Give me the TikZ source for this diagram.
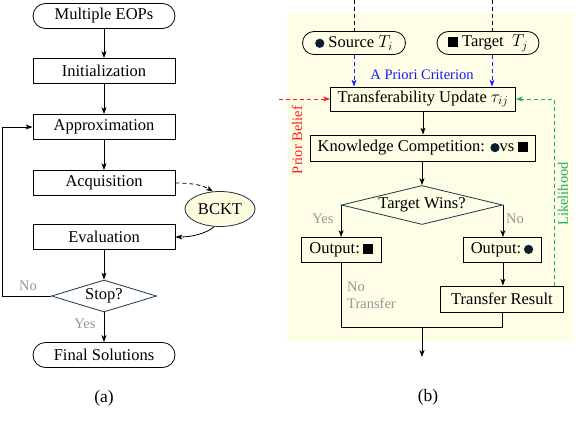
\documentclass[tikz,border=0pt]{standalone}
\usepackage{fontspec}
\setmainfont{Liberation Serif}
\usetikzlibrary{arrows.meta,shapes.geometric}
\definecolor{bgy}{RGB}{254,254,230}
\definecolor{ell}{RGB}{254,252,222}
\definecolor{dia}{RGB}{28,52,72}
\definecolor{lab}{RGB}{150,150,150}
\definecolor{ballc}{RGB}{10,30,45}
\definecolor{grn}{RGB}{30,175,90}
\definecolor{blu}{RGB}{25,25,255}
\definecolor{rd}{RGB}{255,30,30}
\newcommand{\ballsym}{\raisebox{-0.3pt}{\tikz\fill[ballc] (0,0) circle (4.6pt);}}
\newcommand{\sqsym}{\rule[-0.3pt]{10pt}{10pt}}
\tikzset{
 box/.style={draw, line width=0.8pt, minimum height=25pt, inner sep=0pt, font=\fontsize{16.5}{19}\selectfont},
 term/.style={box, rounded corners=12.5pt},
 dec/.style={diamond, draw=dia, line width=0.8pt, inner sep=0pt, font=\fontsize{16.5}{19}\selectfont},
 arr/.style={-{Stealth[length=7pt,width=5pt,inset=2pt]}, line width=0.8pt},
 dsh/.style={dash pattern=on 4pt off 3pt},
 lbl/.style={text=lab, font=\fontsize{14.5}{17}\selectfont, inner sep=0pt},
 capt/.style={font=\fontsize{17.5}{20}\selectfont, inner sep=0pt},
}
\begin{document}
\begin{tikzpicture}[x=1pt,y=-1pt]
\useasboundingbox (0,0) rectangle (581,423);
% ---------- panel (a)
\node[term, minimum width=142pt] (meops) at (104,16) {Multiple EOPs};
\node[box, minimum width=142pt] (init) at (104,71) {Initialization};
\node[box, minimum width=142pt] (approx) at (104,127) {Approximation};
\node[box, minimum width=142pt] (acq) at (104,183) {Acquisition};
\node[box, minimum width=142pt] (eval) at (104,237) {Evaluation};
\node[dec, aspect=3.3, minimum width=105pt, minimum height=32pt] (stop) at (104,296) {Stop?};
\node[term, minimum width=142pt] (final) at (104,355) {Final Solutions};
\node[ellipse, draw=dia, fill=ell, line width=0.8pt, minimum width=70pt, minimum height=35pt, inner sep=0pt, font=\fontsize{16.5}{19}\selectfont] (bckt) at (220,209) {BCKT};
\coordinate (loopc) at (2,296);
\draw[arr] (meops) -- (init);
\draw[arr] (init) -- (approx);
\draw[arr] (approx) -- (acq);
\draw[arr] (eval) -- (stop);
\draw[arr] (stop) -- (final);
\draw[arr] (stop.west) -- (loopc) |- (approx.west);
\draw[arr, dsh] (acq.east) .. controls (195,183) and (204,186) .. (bckt.112);
\draw[arr] (bckt.252) .. controls (207,233) and (193,237) .. (eval.east);
\node[lbl] at (28,286) {No};
\node[lbl] at (85,324) {Yes};
\node[capt] (capa) at (104,398) {(a)};
% ---------- panel (b)
\fill[bgy] (287,13) rectangle (573,342);
\node[term, minimum width=103pt, minimum height=23pt, rounded corners=11.5pt] (src) at (354,43) {\ballsym\ Source $T_i$};
\node[term, minimum width=102pt, minimum height=23pt, rounded corners=11.5pt] (tgt) at (488,43) {\sqsym\ Target\ \ $T_j$};
\node[box, minimum width=185pt, minimum height=24pt] (trans) at (423,99) {Transferability Update $\tau_{ij}$};
\node[box, minimum width=225pt, minimum height=26pt] (kc) at (423,148) {Knowledge Competition: \ballsym vs \sqsym};
\node[dec, aspect=4, minimum width=161pt, minimum height=39pt] (tw) at (422,205) {Target Wins?};
\node[box, minimum width=80pt] (outsq) at (341,250) {Output:\,\sqsym};
\node[box, minimum width=78pt] (outc) at (502,250) {Output:\,\ballsym};
\node[box, minimum width=123pt, minimum height=26pt] (tres) at (502,299) {Transfer Result};
\coordinate (st) at (354,0);
\coordinate (tt) at (492,0);
\coordinate (pb) at (279,99);
\coordinate (gs) at (554,286);
\coordinate (mj) at (422,327);
\coordinate (endb) at (422,357);
\draw[dsh, line width=0.8pt] (st) -- (src.north);
\draw[dsh, line width=0.8pt] (tt) -- (tt |- tgt.north);
\draw[arr, dsh, blu] (src.south) -- (src.south |- trans.north);
\draw[arr, dsh, blu] (tt |- tgt.south) -- (tt |- trans.north);
\node[text=blu, font=\fontsize{14.5}{17}\selectfont, inner sep=0pt] at (422,75) {A Priori Criterion};
\draw[arr, dsh, rd] (pb) -- (trans.west);
\node[text=rd, font=\fontsize{14.5}{17}\selectfont, inner sep=0pt, rotate=90] at (297,140) {Prior Belief};
\draw[arr, dsh, grn] (gs) |- (trans.east);
\node[text=grn, font=\fontsize{14.5}{17}\selectfont, inner sep=0pt, rotate=90] at (563,194) {Likelihood};
\draw[arr] (trans) -- (kc);
\draw[arr] (kc.south -| tw.north) -- (tw.north);
\draw[arr] (tw.west) -- (tw.west |- outsq.north);
\draw[arr] (tw.east) -- (tw.east |- outc.north);
\draw[arr] (outc.south -| tw.east) -- (tres.north -| tw.east);
\draw[line width=0.8pt] (outsq.south) -- (outsq.south |- mj) -- (tres.south |- mj) -- (tres.south);
\draw[arr] (mj) -- (endb);
\node[lbl] at (323,219) {Yes};
\node[lbl] at (515,219) {No};
\node[lbl, align=left, anchor=north west] at (347,282) {No\\Transfer};
\node[capt] (capb) at (428,397) {(b)};
\end{tikzpicture}
\end{document}
